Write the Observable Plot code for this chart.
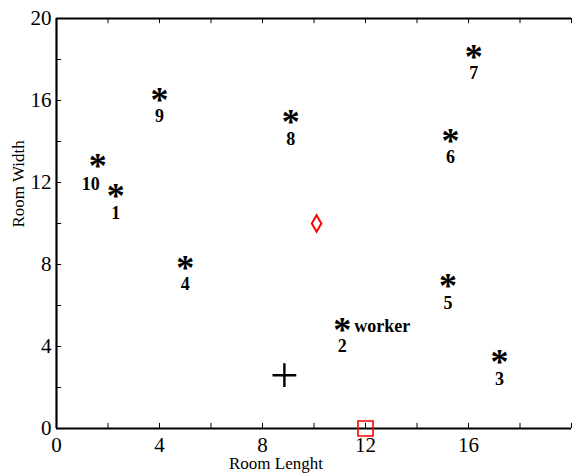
<!DOCTYPE html>
<html><head><meta charset="utf-8">
<script src="https://cdn.jsdelivr.net/npm/d3@7"></script>
<script src="https://cdn.jsdelivr.net/npm/@observablehq/plot@0.6"></script>
<style>body{margin:0;background:#fff}#chart svg{display:block}#chart svg text{font-family:'Liberation Serif','Times New Roman',serif}</style>
</head><body><div id="chart"></div>
<script>
// Sensor positions (asterisks) and their numbers
const sensorIds = ["1","2","3","4","5","6","7","8","9","10"];
const sensorX = [2.3, 11.1, 17.2, 5.0, 15.2, 15.3, 16.2, 9.1, 4.0, 1.6];
const sensorY = [11.5, 5.0, 3.4, 8.0, 7.1, 14.2, 18.3, 15.1, 16.2, 13.0];
const workerSensor = "2";
const workerLabel = "worker";
// Red diamond (estimate), red square, black plus
const diamondX = [10.1], diamondY = [10.0];
const squareX = [12], squareY = [0];
const plusX = [8.85], plusY = [2.6];
// Axes
const xTickLabels = [0, 4, 8, 12, 16];
const yTickLabels = [0, 4, 8, 12, 16, 20];
const minorTicks = [0, 2, 4, 6, 8, 10, 12, 14, 16, 18, 20];
const xTitle = "Room Lenght";
const yTitle = "Room Width";

const sensors = sensorIds.map((id, i) => ({id, x: sensorX[i], y: sensorY[i]}));
const serif = "'Liberation Serif', 'Times New Roman', serif";

const chart = Plot.plot({
  width: 573, height: 476,
  marginLeft: 56, marginRight: 2, marginTop: 18, marginBottom: 48,
  style: {fontFamily: serif, background: "#fff", color: "#000"},
  x: {domain: [0, 20]},
  y: {domain: [0, 20]},
  marks: [
    Plot.axisX({ticks: xTickLabels, tickSize: 0, tickPadding: 9, fontSize: 21, label: null, fontFamily: serif}),
    Plot.axisY({ticks: yTickLabels, tickSize: 0, tickPadding: 5, fontSize: 21, label: null, fontFamily: serif}),
    // inward minor ticks
    Plot.ruleX(minorTicks, {x: d => d, y1: 0, y2: 0.25, stroke: "#000", strokeWidth: 1}),
    Plot.ruleX(minorTicks, {x: d => d, y1: 20, y2: 19.75, stroke: "#000", strokeWidth: 1}),
    Plot.ruleY(minorTicks, {y: d => d, x1: 0, x2: 0.2, stroke: "#000", strokeWidth: 1}),
    // box (left, bottom, top)
    Plot.ruleX([0], {stroke: "#000", strokeWidth: 2.2}),
    Plot.ruleY([0, 20], {stroke: "#000", strokeWidth: 2.2}),
    // asterisks
    Plot.text(sensors, {x: "x", y: "y", text: () => "*", fontSize: 36, fontWeight: "bold", dy: 4, fill: "#000", fontFamily: serif}),
    Plot.text(sensors.filter(d => d.id !== "10"), {x: "x", y: "y", text: "id", fontSize: 18, fontWeight: "bold", dy: 20, fill: "#000", fontFamily: serif}),
    Plot.text(sensors.filter(d => d.id === "10"), {x: "x", y: "y", text: "id", fontSize: 18, fontWeight: "bold", dy: 22, dx: 2, textAnchor: "end", fill: "#000", fontFamily: serif}),
    Plot.text(sensors.filter(d => d.id === workerSensor), {x: "x", y: "y", text: () => workerLabel, fontSize: 18, fontWeight: "bold", dx: 12, dy: 0, textAnchor: "start", fill: "#000", fontFamily: serif}),
    Plot.dot(diamondX.map((x, i) => ({x, y: diamondY[i]})), {x: "x", y: "y", symbol: "diamond", r: 5, stroke: "red", strokeWidth: 2, fill: "none"}),
    Plot.dot(squareX.map((x, i) => ({x, y: squareY[i]})), {x: "x", y: "y", symbol: "square", r: 8.5, stroke: "red", strokeWidth: 1.6, fill: "none"}),
    Plot.dot(plusX.map((x, i) => ({x, y: plusY[i]})), {x: "x", y: "y", symbol: "plus", r: 7.7, stroke: "#000", strokeWidth: 2.4}),
    // axis titles
    Plot.text([xTitle], {frameAnchor: "bottom", text: d => d, dy: 40, dx: -38, fontSize: 17, fill: "#000", fontFamily: serif}),
    Plot.text([yTitle], {frameAnchor: "left", text: d => d, rotate: -90, dx: -38, dy: 4, fontSize: 17, fill: "#000", fontFamily: serif})
  ]
});
document.getElementById("chart").append(chart);
</script>
</body></html>
